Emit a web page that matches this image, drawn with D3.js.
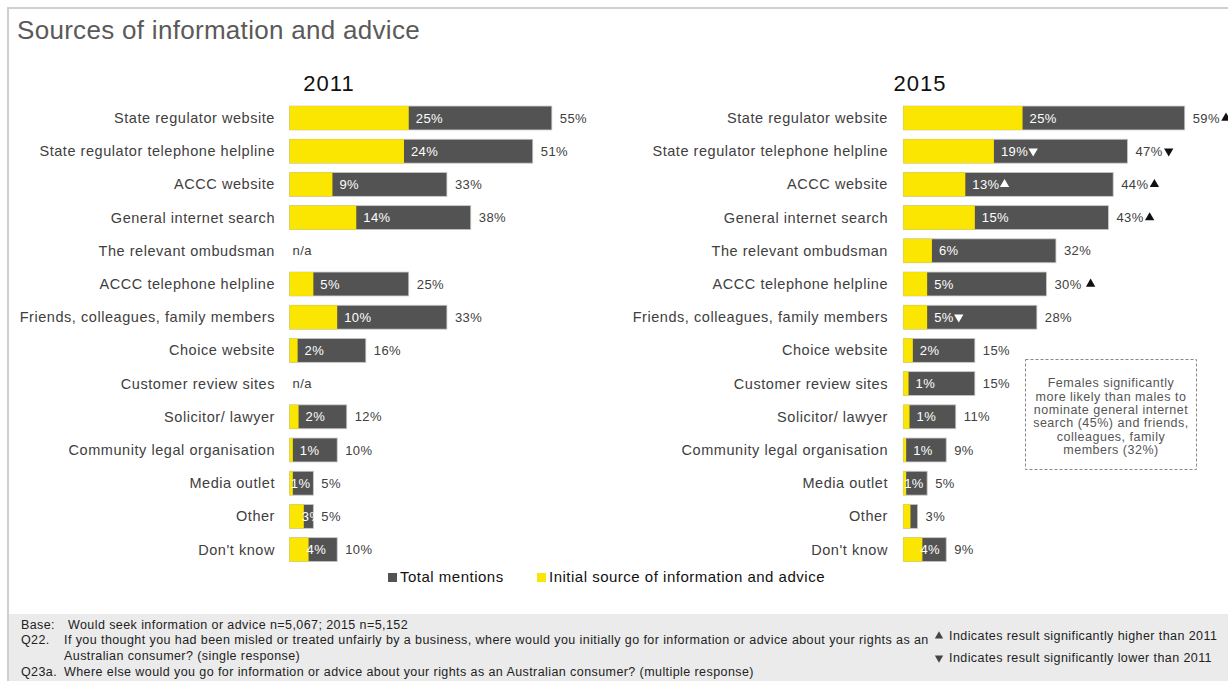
<!DOCTYPE html>
<html><head><meta charset="utf-8">
<script src="https://cdn.jsdelivr.net/npm/d3@7"></script>
<style>
html,body{margin:0;padding:0;background:#fff;}
svg{display:block;font-family:"Liberation Sans",Arial,sans-serif;}
</style></head>
<body><svg id="chart" width="1228" height="681"></svg>
<script>
const categories = ["State regulator website","State regulator telephone helpline","ACCC website","General internet search","The relevant ombudsman","ACCC telephone helpline","Friends, colleagues, family members","Choice website","Customer review sites","Solicitor/ lawyer","Community legal organisation","Media outlet","Other","Don't know"];
const total2011   = [55,51,33,38,null,25,33,16,null,12,10,5,5,10];
const initial2011 = [25,24,9,14,null,5,10,1.7,null,1.9,0.7,0.7,3,4];
const total2015   = [59,47,44,43,32,30,28,15,15,11,9,5,3,9];
const initial2015 = [25,19,13,15,6,5,5,2,1.1,1.3,0.6,0.6,1.5,4];
const sigTotal2015   = ["up","down","up","up","","up","","","","","","","",""];
const sigInitial2015 = ["","down","up","","","","down","","","","","","",""];
const hiddenInitialLabels2015 = ["Other"];
const years = ["2011","2015"];
const legendItems = ["Total mentions","Initial source of information and advice"];
const footerLines = [
  ["Base:","Would seek information or advice n=5,067; 2015 n=5,152"],
  ["Q22.","If you thought you had been misled or treated unfairly by a business, where would you initially go for information or advice about your rights as an"],
  ["","Australian consumer? (single response)"],
  ["Q23a.","Where else would you go for information or advice about your rights as an Australian consumer? (multiple response)"]
];
const sigLegend = [["up","Indicates result significantly higher than 2011"],["down","Indicates result significantly lower than 2011"]];
const noteLines = ["Females significantly","more likely than males to","nominate general internet","search (45%) and friends,","colleagues, family","members (32%)"];

const YELLOW="#FAE600", GREY="#535353", TXT="#404040";
const svg=d3.select("#chart");

// frame
svg.append("path").attr("d","M8,681 V8 H1228").attr("fill","none").attr("stroke","#cfcfcf").attr("stroke-width",2);
svg.append("rect").attr("x",9).attr("y",614).attr("width",1219).attr("height",67).attr("fill","#ebebeb");

svg.append("text").attr("x",17).attr("y",39).attr("font-size",26).attr("letter-spacing",0.3).attr("fill","#5a5a5a").text("Sources of information and advice");

const y=d3.scaleBand().domain(categories).range([101.4,101.4+14*33.2]).paddingInner(0.28).paddingOuter(0.14);
const pxPer=4.77;
const xs=[d3.scaleLinear().domain([0,60]).range([289.5,289.5+60*pxPer]),
          d3.scaleLinear().domain([0,60]).range([903.3,903.3+60*pxPer])];
const labelX=[275,888];
const yearX=[329,920];

function tri(g,x,cy,dir,color,size){
  g.append("path").attr("d",d3.symbol(d3.symbolTriangle,size||38)())
   .attr("transform",`translate(${x},${cy}) rotate(${dir==="down"?180:0})`).attr("fill",color);
}

const panels=[
  {tot:total2011,ini:initial2011,sigT:null,sigI:null,hidden:[]},
  {tot:total2015,ini:initial2015,sigT:sigTotal2015,sigI:sigInitial2015,hidden:hiddenInitialLabels2015}
];
panels.forEach((p,pi)=>{
  const x=xs[pi];
  const g=svg.append("g");
  g.append("text").attr("x",yearX[pi]).attr("y",91).attr("text-anchor","middle").attr("font-size",22).attr("letter-spacing",1).attr("fill","#111").text(years[pi]);
  categories.forEach((c,i)=>{
    const cy=y(c)+y.bandwidth()/2;
    g.append("text").attr("x",labelX[pi]).attr("y",cy).attr("dy","0.35em").attr("text-anchor","end").attr("font-size",14.5).attr("letter-spacing",0.55).attr("fill",TXT).text(c);
    const t=p.tot[i], v=p.ini[i];
    if(t==null){
      g.append("text").attr("x",x(0)+3).attr("y",cy).attr("dy","0.35em").attr("font-size",13).attr("letter-spacing",0.4).attr("fill",TXT).text("n/a");
      return;
    }
    g.append("rect").attr("x",x(0)).attr("y",y(c)).attr("width",x(t)-x(0)).attr("height",y.bandwidth()).attr("fill",GREY).attr("stroke","#c8c8c8").attr("stroke-width",0.8);
    g.append("rect").attr("x",x(0)).attr("y",y(c)).attr("width",x(v)-x(0)).attr("height",y.bandwidth()).attr("fill",YELLOW);
    // total label
    const tl=g.append("text").attr("x",x(t)+8).attr("y",cy).attr("dy","0.35em").attr("font-size",13).attr("fill",TXT).attr("letter-spacing",0.4).text(Math.round(t)+"%");
    if(p.sigT && p.sigT[i]){
      const w=tl.node().getComputedTextLength();
      const gap = c==="ACCC telephone helpline"?9:6;
      tri(g,x(t)+8+w+gap,cy,p.sigT[i],"#111");
    }
    // initial label
    if(p.hidden.indexOf(c)<0){
      const small=(t-v)<8;
      const lx = small ? x(v)-2 : x(v)+7;
      const il=g.append("text").attr("x",lx).attr("y",cy).attr("dy","0.35em").attr("font-size",13).attr("fill","#fff").attr("letter-spacing",0.4).text(Math.round(v)+"%");
      if(p.sigI && p.sigI[i]){
        const w=il.node().getComputedTextLength();
        tri(g,lx+w+5,cy,p.sigI[i],"#fff");
      }
    }
  });
});

// legend
const lg=svg.append("g");
lg.append("rect").attr("x",388).attr("y",573).attr("width",9).attr("height",9).attr("fill",GREY);
lg.append("text").attr("x",400).attr("y",577).attr("dy","0.35em").attr("font-size",15).attr("letter-spacing",0.5).attr("fill","#111").text(legendItems[0]);
lg.append("rect").attr("x",537).attr("y",573).attr("width",9).attr("height",9).attr("fill",YELLOW);
lg.append("text").attr("x",549).attr("y",577).attr("dy","0.35em").attr("font-size",15).attr("letter-spacing",0.5).attr("fill","#111").text(legendItems[1]);

// note box
const nb=svg.append("g");
nb.append("rect").attr("x",1025.5).attr("y",359.5).attr("width",171).attr("height",110).attr("fill","none").attr("stroke","#888").attr("stroke-dasharray","3,2");
noteLines.forEach((l,i)=>nb.append("text").attr("x",1111).attr("y",383+i*13.3).attr("dy","0.35em").attr("text-anchor","middle").attr("font-size",12.5).attr("fill","#555").attr("letter-spacing",0.5).text(l));

// footer
const fy=[625,640,656,672];
footerLines.forEach((l,i)=>{
  if(l[0]) svg.append("text").attr("x",21).attr("y",fy[i]).attr("dy","0.35em").attr("font-size",12.5).attr("letter-spacing",0.4).attr("fill","#222").text(l[0]);
  svg.append("text").attr("x",i===0?68:64).attr("y",fy[i]).attr("dy","0.35em").attr("font-size",12.5).attr("fill","#222").attr("letter-spacing",0.42).text(l[1]);
});
sigLegend.forEach((s,i)=>{
  const cy=[636,658][i];
  tri(svg,939,cy,s[0],"#444",30);
  svg.append("text").attr("x",949).attr("y",cy).attr("dy","0.35em").attr("font-size",12.5).attr("fill","#222").attr("letter-spacing",0.42).text(s[1]);
});
</script></body></html>
